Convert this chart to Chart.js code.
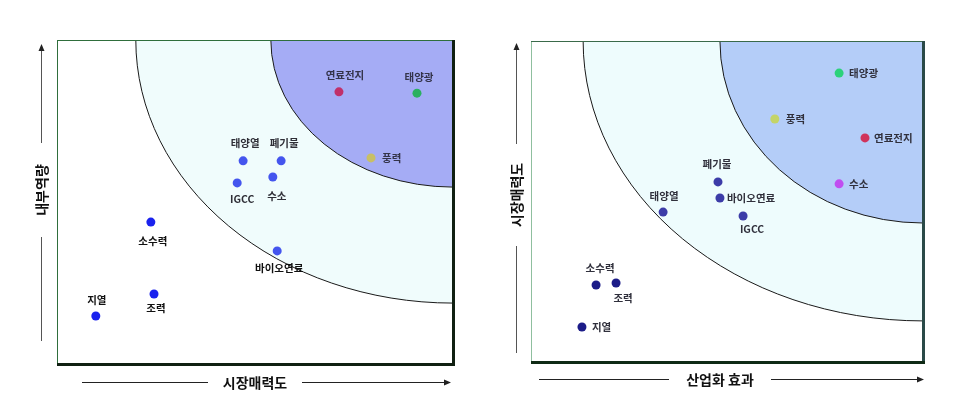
<!DOCTYPE html>
<html>
<head>
<meta charset="utf-8">
<script src="https://cdn.jsdelivr.net/npm/chart.js@4"></script>
<style>
  html,body{margin:0;padding:0;background:#fff;}
  #wrapL{position:absolute;left:0;top:0;width:480px;height:400px;}
  #wrapR{position:absolute;left:480px;top:0;width:479px;height:400px;}
</style>
</head>
<body>
<div id="wrapL"><canvas id="cL" width="480" height="400"></canvas></div>
<div id="wrapR"><canvas id="cR" width="479" height="400"></canvas></div>
<script>
// ---------- data (scale 0..100) ----------
const leftNames = ['연료전지','태양광','풍력','태양열','폐기물','IGCC','수소','소수력','바이오연료','지열','조력'];
const leftX     = [71.2, 90.9, 79.3, 47.0, 56.6, 45.5, 54.5, 23.7, 55.6,  9.8, 24.5];
const leftY     = [84.0, 83.6, 63.6, 62.7, 62.7, 55.9, 57.7, 43.8, 34.9, 14.8, 21.6];
const leftZoneOuter = [80.1, 81.2];   // radii (x, y) from top-right corner
const leftZoneInner = [46.0, 45.4];
const leftXTitle = '시장매력도';
const leftYTitle = '내부역량';

const rightNames = ['태양광','풍력','연료전지','수소','폐기물','바이오연료','태양열','IGCC','소수력','조력','지열'];
const rightX     = [78.6, 62.2, 85.2, 78.6, 47.7, 48.2, 33.7, 54.1, 16.6, 21.7, 13.0];
const rightY     = [90.0, 75.7, 69.8, 55.5, 56.1, 51.1, 46.7, 45.5, 24.0, 24.6, 10.9];
const rightZoneOuter = [86.7, 87.2];
const rightZoneInner = [51.8, 56.7];
const rightXTitle = '산업화 효과';
const rightYTitle = '시장매력도';

// ---------- styles ----------
const leftColors  = ['#c0306a','#2ab060','#c8bf66','#4455ee','#4455ee','#4455ee','#4455ee','#1a22ee','#4455ee','#1a22ee','#1a22ee'];
const rightColors = ['#2cd27a','#c4d468','#d0345c','#c04ef0','#3c3ca8','#3c3ca8','#3c3ca8','#3c3ca8','#1c1c88','#1c1c88','#1c1c88'];
// label placement: [dx, dy, align]
const leftLabelPlace = [
  [6,-17,'center'],[2,-16,'center'],[11,0,'left'],[2,-18,'center'],[3,-18,'center'],
  [5,16,'center'],[4,19,'center'],[2,19,'center'],[2,17,'center'],[1,-16,'center'],[2,14,'center']];
const rightLabelPlace = [
  [10,0,'left'],[11,0,'left'],[9,0,'left'],[10,0,'left'],[-1,-18,'center'],
  [7,0,'left'],[1,-16,'center'],[9,13,'center'],[4,-17,'center'],[7,15,'center'],[10,0,'left']];
const leftLabelColors = ['#34344a','#34344a','#34344a','#2e2e36','#2e2e36','#2e2e36','#2e2e36','#111','#111','#111','#111'];
const rightLabelColors = Array(11).fill('#30303c');

function makeData(xs, ys){ return xs.map((x,i)=>({x:x, y:ys[i]})); }

const decorPlugin = {
  id:'decor',
  beforeDatasetsDraw(chart, args, o){
    const {ctx, chartArea:a, scales:{x, y}} = chart;
    ctx.save();
    ctx.beginPath(); ctx.rect(a.left, a.top, a.right-a.left, a.bottom-a.top); ctx.clip();
    ctx.fillStyle = '#ffffff';
    ctx.fillRect(a.left, a.top, a.right-a.left, a.bottom-a.top);
    const cx = x.getPixelForValue(100), cy = y.getPixelForValue(100);
    const zones = [[o.outer, o.outerColor],[o.inner, o.innerColor]];
    zones.forEach(([r, col])=>{
      const rx = cx - x.getPixelForValue(100 - r[0]);
      const ry = y.getPixelForValue(100 - r[1]) - cy;
      ctx.beginPath();
      ctx.moveTo(cx, cy);
      ctx.ellipse(cx, cy, rx, ry, 0, Math.PI/2, Math.PI, false);
      ctx.closePath();
      ctx.fillStyle = col; ctx.fill();
      ctx.beginPath();
      ctx.ellipse(cx, cy, rx, ry, 0, Math.PI/2, Math.PI, false);
      ctx.strokeStyle = '#1a1a1a'; ctx.lineWidth = 1; ctx.stroke();
    });
    ctx.restore();
  },
  afterDatasetsDraw(chart, args, o){
    const {ctx, chartArea:a} = chart;
    ctx.save();
    // point labels
    const meta = chart.getDatasetMeta(0);
    ctx.font = o.labelFont;
    ctx.textBaseline = 'middle';
    meta.data.forEach((pt, i)=>{
      const p = o.place[i];
      ctx.textAlign = p[2];
      ctx.fillStyle = o.labelColors[i];
      ctx.fillText(o.names[i], pt.x + p[0], pt.y + p[1]);
    });
    // borders
    ctx.lineCap = 'butt';
    ctx.strokeStyle = o.borderLeft; ctx.lineWidth = 1;
    ctx.beginPath(); ctx.moveTo(a.left+0.5, a.bottom); ctx.lineTo(a.left+0.5, a.top); ctx.stroke();
    ctx.strokeStyle = o.borderTop;
    ctx.beginPath(); ctx.moveTo(a.left, a.top+0.5); ctx.lineTo(a.right, a.top+0.5); ctx.stroke();
    ctx.strokeStyle = o.borderRight; ctx.lineWidth = 3;
    ctx.beginPath(); ctx.moveTo(a.right+0.5, a.top); ctx.lineTo(a.right+0.5, a.bottom+2); ctx.stroke();
    ctx.strokeStyle = o.borderBottom;
    ctx.beginPath(); ctx.moveTo(a.left, a.bottom+0.5); ctx.lineTo(a.right+2, a.bottom+0.5); ctx.stroke();
    // axis titles with arrows
    ctx.font = 'bold 14px "Noto Sans CJK KR", sans-serif';
    ctx.fillStyle = '#111'; ctx.strokeStyle = '#222'; ctx.lineWidth = 1;
    const xa = o.xAxis;
    ctx.textAlign = 'center'; ctx.textBaseline = 'middle';
    ctx.fillText(o.xTitle, xa.cx, xa.y + 1);
    ctx.beginPath();
    ctx.moveTo(xa.x0, xa.y+0.5); ctx.lineTo(xa.cx - xa.gap, xa.y+0.5);
    ctx.moveTo(xa.cx + xa.gap, xa.y+0.5); ctx.lineTo(xa.x1 - 5, xa.y+0.5);
    ctx.stroke();
    ctx.beginPath(); ctx.moveTo(xa.x1, xa.y+0.5); ctx.lineTo(xa.x1-7, xa.y-2.5); ctx.lineTo(xa.x1-7, xa.y+3.5); ctx.closePath(); ctx.fillStyle='#222'; ctx.fill();
    const ya = o.yAxis;
    ctx.fillStyle = '#111';
    ctx.save();
    ctx.translate(ya.x + 1, ya.cy); ctx.rotate(-Math.PI/2);
    ctx.fillText(o.yTitle, 0, 0);
    ctx.restore();
    ctx.strokeStyle = '#555';
    ctx.beginPath();
    ctx.moveTo(ya.x+0.5, ya.y0); ctx.lineTo(ya.x+0.5, ya.cy + ya.gap);
    ctx.moveTo(ya.x+0.5, ya.cy - ya.gap); ctx.lineTo(ya.x+0.5, ya.y1 + 5);
    ctx.stroke();
    ctx.beginPath(); ctx.moveTo(ya.x+0.5, ya.y1); ctx.lineTo(ya.x-2.5, ya.y1+7); ctx.lineTo(ya.x+3.5, ya.y1+7); ctx.closePath(); ctx.fillStyle='#222'; ctx.fill();
    ctx.restore();
  }
};

function makeChart(id, xs, ys, colors, pad, decor){
  return new Chart(document.getElementById(id), {
    type:'scatter',
    data:{ datasets:[{ data: makeData(xs, ys), backgroundColor: colors, borderColor: colors, pointRadius: 4.5, pointHoverRadius: 4.5, borderWidth: 0 }]},
    options:{
      responsive:false, animation:false,
      layout:{ padding: pad },
      scales:{
        x:{ type:'linear', min:0, max:100, display:false },
        y:{ type:'linear', min:0, max:100, display:false }
      },
      plugins:{ legend:{display:false}, tooltip:{enabled:false}, decor: decor }
    },
    plugins:[decorPlugin]
  });
}

makeChart('cL', leftX, leftY, leftColors, {left:57, top:40, right:27, bottom:36}, {
  outer:leftZoneOuter, inner:leftZoneInner, outerColor:'#f0fcfc', innerColor:'#a5acf5',
  names:leftNames, place:leftLabelPlace, labelColors:leftLabelColors,
  labelFont:'bold 10.5px "Noto Sans CJK KR", sans-serif',
  borderLeft:'#2f6e3c', borderTop:'#2f6e3c', borderRight:'#102012', borderBottom:'#102012',
  xTitle:leftXTitle, yTitle:leftYTitle,
  xAxis:{x0:82, x1:451, y:382, cx:255, gap:47},
  yAxis:{x:41, y0:341, y1:44, cy:190, gap:47}
});
makeChart('cR', rightX, rightY, rightColors, {left:51, top:41, right:36, bottom:38}, {
  outer:rightZoneOuter, inner:rightZoneInner, outerColor:'#eefcfd', innerColor:'#b4cdf8',
  names:rightNames, place:rightLabelPlace, labelColors:rightLabelColors,
  labelFont:'bold 10.5px "Noto Sans CJK KR", sans-serif',
  borderLeft:'#8fbf9f', borderTop:'#3a6a4a', borderRight:'#2a4a48', borderBottom:'#0f2a15',
  xTitle:rightXTitle, yTitle:rightYTitle,
  xAxis:{x0:59, x1:444, y:379, cx:240, gap:51},
  yAxis:{x:36, y0:353, y1:43, cy:195, gap:51}
});
</script>
</body>
</html>
